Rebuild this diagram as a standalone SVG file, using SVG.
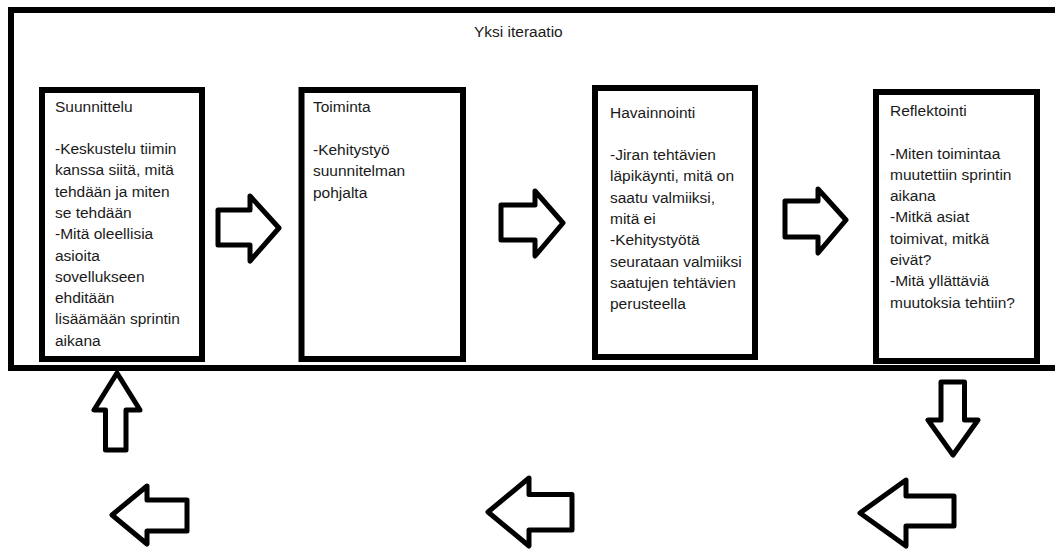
<svg xmlns="http://www.w3.org/2000/svg" width="1055" height="549" viewBox="0 0 1055 549">
<style>
.frame{fill:none;stroke:#000;stroke-width:6}
.box{fill:#fff;stroke:#000;stroke-width:6}
.arrow{fill:#fff;stroke:#000;stroke-width:5;stroke-linejoin:round}
text{font-family:"Liberation Sans",Arial,sans-serif;font-size:15.5px;fill:#1a1a1a}
</style>
<rect width="1055" height="549" fill="#fff"/>
<g id="frame">
<rect class="frame" x="11" y="10" width="1060" height="358"/>
<text x="474" y="37">Yksi iteraatio</text>
</g>
<g id="suunnittelu">
<rect class="box" x="42" y="90" width="160" height="269"/>
<text x="55" y="111.5">Suunnittelu</text>
<text x="55" y="154">-Keskustelu tiimin</text>
<text x="55" y="175.3">kanssa siitä, mitä</text>
<text x="55" y="196.6">tehdään ja miten</text>
<text x="55" y="217.9">se tehdään</text>
<text x="55" y="239.2">-Mitä oleellisia</text>
<text x="55" y="260.5">asioita</text>
<text x="55" y="281.8">sovellukseen</text>
<text x="55" y="303.1">ehditään</text>
<text x="55" y="324.4">lisäämään sprintin</text>
<text x="55" y="345.7">aikana</text>
</g>
<g id="toiminta">
<rect class="box" x="301.5" y="90" width="161.5" height="269"/>
<text x="313" y="112">Toiminta</text>
<text x="313" y="155">-Kehitystyö</text>
<text x="313" y="176.3">suunnitelman</text>
<text x="313" y="197.6">pohjalta</text>
</g>
<g id="havainnointi">
<rect class="box" x="595" y="88" width="160" height="269"/>
<text x="610" y="117.5">Havainnointi</text>
<text x="610" y="160">-Jiran tehtävien</text>
<text x="610" y="181.3">läpikäynti, mitä on</text>
<text x="610" y="202.6">saatu valmiiksi,</text>
<text x="610" y="223.9">mitä ei</text>
<text x="610" y="245.2">-Kehitystyötä</text>
<text x="610" y="266.5">seurataan valmiiksi</text>
<text x="610" y="287.8">saatujen tehtävien</text>
<text x="610" y="309.1">perusteella</text>
</g>
<g id="reflektointi">
<rect class="box" x="876" y="92" width="161" height="269"/>
<text x="890" y="116">Reflektointi</text>
<text x="890" y="158.5">-Miten toimintaa</text>
<text x="890" y="179.8">muutettiin sprintin</text>
<text x="890" y="201.1">aikana</text>
<text x="890" y="222.4">-Mitkä asiat</text>
<text x="890" y="243.7">toimivat, mitkä</text>
<text x="890" y="265">eivät?</text>
<text x="890" y="286.3">-Mitä yllättäviä</text>
<text x="890" y="307.6">muutoksia tehtiin?</text>
</g>
<g id="connectors">
<polygon class="arrow" points="218,210 250,210 250,196 279,228 250,261 250,245 218,245"/>
<polygon class="arrow" points="501,205 535,205 535,191 563,223 535,256 535,240 501,240"/>
<polygon class="arrow" points="785,201 818,201 818,189 846,220 818,253 818,237 785,237"/>
<polygon class="arrow" points="941,382 964.5,382 964.5,420 978,420 953,455 928,420 941,420"/>
<polygon class="arrow" points="954,496 906,496 906,480 860,513 906,546 906,526 954,526"/>
<polygon class="arrow" points="572,494.5 529,494.5 529,478 488,512 529,546 529,530 572,530"/>
<polygon class="arrow" points="187,500 147,500 147,486 112,515 147,544 147,531 187,531"/>
<polygon class="arrow" points="105.5,450 126,450 126,410 140,410 117,373 94,410 105.5,410"/>
</g>
</svg>
